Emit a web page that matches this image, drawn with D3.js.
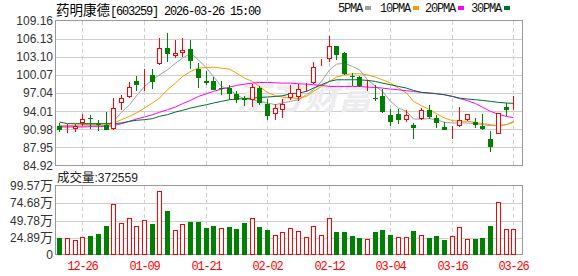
<!DOCTYPE html>
<html lang="zh">
<head>
<meta charset="UTF-8">
<title>药明康德 K线</title>
<script src="https://cdn.jsdelivr.net/npm/d3@7/dist/d3.min.js"></script>
<style>
    body { margin: 0; background: #fff; }
    .ylab { font: 12px "Liberation Sans", Arial, sans-serif; fill: #333; }
    .xlab { font: 12px "Liberation Mono", monospace; letter-spacing: -1.2px; fill: #f00; }
    .mono { font-family: "Liberation Mono", monospace; letter-spacing: -1.2px; }
    .cjk { font-family: "Noto Sans CJK SC", sans-serif; }
</style>
</head>
<body>
<script>
    // trading days shown
    var dates = ["12-23","12-24","12-25","12-26","12-29","12-30","12-31",
        "01-05","01-06","01-07","01-08","01-09","01-12","01-13","01-14","01-15","01-16",
        "01-19","01-20","01-21","01-22","01-23","01-26","01-27","01-28","01-29","01-30",
        "02-02","02-03","02-04","02-05","02-06","02-09","02-10","02-11","02-12","02-13",
        "02-24","02-25","02-26","02-27","03-02","03-03","03-04","03-05","03-06",
        "03-09","03-10","03-11","03-12","03-13","03-16","03-17","03-18","03-19","03-20",
        "03-23","03-24","03-25","03-26"];

    var open  = [91.61,91.16,91.10,92.00,92.83,91.90,91.70,91.05,95.40,96.40,99.02,98.85,100.13,101.97,104.59,103.31,103.75,104.42,101.14,99.13,
                 99.13,98.00,98.00,96.96,96.18,95.96,97.90,95.29,93.50,94.28,96.18,96.40,98.60,98.74,101.90,102.75,104.98,103.81,99.97,99.69,
                 99.05,96.23,96.51,93.45,93.62,92.49,91.77,92.73,94.28,92.90,91.32,90.99,91.49,92.61,92.16,91.61,89.43,90.22,94.73,94.67];
    var high  = [92.10,91.94,91.90,93.56,93.45,92.60,93.90,96.23,96.79,99.00,99.97,101.10,101.13,106.37,107.10,105.98,106.26,105.98,102.08,100.80,
                 99.74,99.13,98.46,97.35,96.62,98.63,98.20,96.12,95.23,96.12,98.46,98.63,98.80,102.36,102.75,106.71,105.00,103.90,100.52,99.86,
                 99.30,98.46,97.74,94.40,94.40,94.28,92.06,94.57,95.12,93.45,92.16,91.61,94.67,93.56,92.83,93.61,90.65,93.73,95.40,96.62];
    var low   = [90.60,90.38,90.60,91.60,91.05,90.66,90.80,90.94,94.17,96.23,97.35,97.35,97.74,101.86,102.20,102.92,103.20,101.08,98.00,98.46,
                 97.52,96.68,95.85,95.45,94.90,94.67,95.10,92.60,92.50,92.83,95.96,95.68,97.18,98.63,101.55,102.36,102.64,100.13,98.30,98.07,
                 97.35,95.68,93.80,91.60,91.83,92.22,89.38,92.61,92.73,91.22,90.83,89.38,91.39,92.44,91.22,90.94,87.14,90.22,93.16,94.28];
    var close = [90.94,91.38,91.50,92.72,92.67,91.70,90.90,94.62,96.18,98.07,98.35,99.13,98.85,104.59,103.59,103.75,104.37,102.53,99.52,98.74,
                 97.63,97.74,96.96,95.95,95.85,98.07,95.40,93.28,94.56,95.29,97.07,97.79,98.75,101.42,102.05,104.98,103.48,100.30,99.74,98.18,
                 99.25,96.07,93.83,92.17,92.61,93.45,91.16,94.28,93.06,92.06,90.94,91.16,92.61,93.56,91.77,91.05,88.05,93.73,94.17,94.80];

    // volume in 万
    var volume = [24.5,24.0,21.6,25.5,27.4,30.3,41.8,73.6,45.7,53.0,41.4,50.0,44.7,91.9,63.5,35.6,44.2,47.6,47.6,39.0,
                  41.8,38.5,40.4,37.5,46.2,53.0,40.4,36.0,28.3,33.2,38.5,34.6,25.5,41.4,28.3,53.0,33.2,33.2,27.4,24.5,
                  22.6,33.2,36.0,28.3,25.5,25.5,34.6,28.3,24.5,27.4,21.6,27.0,40.0,22.6,22.6,24.5,41.8,76.0,37.0,37.2559];

    // moving averages as shown
    var ma5  = [91.61,91.61,91.66,91.78,91.83,91.72,91.72,92.33,93.84,95.12,96.62,98.18,99.30,100.13,100.97,102.08,102.92,103.76,102.64,101.25,
                99.85,98.18,97.63,96.79,96.06,95.95,95.68,95.40,95.12,95.40,95.68,95.95,96.79,97.63,99.02,100.97,101.92,102.08,101.53,100.97,
                99.30,98.18,97.35,95.68,94.56,94.00,92.72,92.72,92.78,92.61,92.16,92.05,92.05,92.05,91.94,91.78,91.61,91.61,91.78,92.33];
    var ma10 = [91.49,91.49,91.49,91.55,91.61,91.61,91.61,92.05,92.61,93.17,93.73,94.56,95.40,96.23,97.63,98.74,99.85,100.69,101.25,101.36,
                101.41,101.25,101.08,100.41,99.58,99.02,98.18,97.18,96.62,96.40,96.23,96.18,96.51,97.35,98.18,99.02,99.74,100.13,100.30,100.30,
                100.13,99.74,99.30,98.74,97.90,97.07,95.68,94.95,94.28,93.61,92.89,92.44,92.33,92.33,92.16,91.94,91.78,91.61,91.78,92.16];
    var ma20 = [91.38,91.38,91.38,91.38,91.44,91.44,91.49,91.61,91.94,92.33,92.72,93.06,93.45,93.84,94.28,94.73,95.29,95.84,96.51,96.96,
                97.35,97.74,98.07,98.35,98.57,98.74,98.85,98.85,98.80,98.74,98.74,98.63,98.57,98.46,98.35,98.18,98.18,98.18,98.18,98.18,
                98.07,98.02,97.90,97.74,97.63,97.46,97.35,97.18,97.07,96.96,96.78,96.50,96.15,95.80,95.30,94.70,94.00,93.50,93.15,92.95];
    var ma30 = [92.22,91.94,91.94,91.94,91.94,91.94,91.94,91.94,92.05,92.33,92.50,92.61,92.78,93.17,93.45,93.89,94.17,94.56,94.84,95.12,
                95.40,95.68,95.95,96.07,96.12,96.23,96.34,96.40,96.51,96.62,96.96,97.07,97.35,97.90,98.46,99.02,99.30,99.30,99.30,99.30,
                99.19,99.02,98.74,98.46,98.18,97.90,97.51,97.18,97.07,96.96,96.79,96.51,96.23,96.07,95.95,95.84,95.68,95.51,95.40,95.35];

    var priceTicks = [84.92, 87.95, 90.98, 94.01, 97.04, 100.07, 103.10, 106.13, 109.16];
    var volTicks = [0, 24.89, 49.78, 74.68, 99.57];
    var labelDates = ["12-26","01-09","01-21","02-02","02-12","03-04","03-16","03-26"];

    var maNames = ["5PMA", "10PMA", "20PMA", "30PMA"];
    var maColors = ["#a0a0a0", "#f0a000", "#ff00ff", "#006e33"];

    // layout
    var W = 578, H = 276,
        left = 56, right = 522,
        pTop = 21, pBottom = 165.5,
        vTop = 186, vBottom = 255;

    var svg = d3.select("body").append("svg")
        .attr("width", W)
        .attr("height", H);

    var x = d3.scaleBand()
        .domain(dates)
        .range([left, left + dates.length * 7.693])
        .padding(0);

    var y = d3.scaleLinear().domain([84.92, 109.16]).range([pBottom, pTop]);
    var yv = d3.scaleLinear().domain([0, 99.57]).range([vBottom, vTop]);

    function cx(i) { return Math.floor(x(dates[i]) + x.bandwidth() / 2) + 0.5; }

    // horizontal grid lines
    svg.append("g").selectAll("line")
        .data(priceTicks.slice(1, -1))
        .enter().append("line")
        .attr("x1", left).attr("x2", right)
        .attr("y1", function(d) { return Math.round(y(d)) + 0.5; })
        .attr("y2", function(d) { return Math.round(y(d)) + 0.5; })
        .attr("stroke", "#cfcfcf");

    svg.append("g").selectAll("line")
        .data(volTicks.slice(1, -1))
        .enter().append("line")
        .attr("x1", left).attr("x2", right)
        .attr("y1", function(d) { return Math.round(yv(d)) + 0.5; })
        .attr("y2", function(d) { return Math.round(yv(d)) + 0.5; })
        .attr("stroke", "#cfcfcf");

    // vertical dashed lines
    var vg = svg.append("g");
    labelDates.forEach(function(d) {
        var xx = cx(dates.indexOf(d));
        [[pTop, pBottom], [vTop, vBottom]].forEach(function(r) {
            vg.append("line")
                .attr("x1", xx).attr("x2", xx)
                .attr("y1", r[0]).attr("y2", r[1])
                .attr("stroke", "#cfcfcf")
                .attr("stroke-dasharray", "4,3");
        });
    });

    // watermark
    svg.append("text")
        .attr("x", 236).attr("y", 109)
        .attr("class", "cjk")
        .style("font-size", "34px")
        .style("font-weight", "bold")
        .style("font-style", "italic")
        .attr("fill", "#ececee")
        .text("东方财富");

    // frames
    [[pTop, pBottom], [vTop, vBottom]].forEach(function(r) {
        svg.append("rect")
            .attr("x", left - 0.5).attr("y", Math.round(r[0]) - 0.5)
            .attr("width", right - left + 1)
            .attr("height", Math.round(r[1]) - Math.round(r[0]))
            .attr("fill", "none")
            .attr("stroke", "#999");
    });

    // moving average lines
    var line = d3.line()
        .x(function(d, i) { return cx(i); })
        .y(function(d) { return y(d); });

    [ma5, ma10, ma20, ma30].forEach(function(arr, k) {
        svg.append("path")
            .datum(arr)
            .attr("d", line)
            .attr("fill", "none")
            .attr("stroke", maColors[k])
            .attr("stroke-width", 1);
    });

    // candles
    var candle = svg.append("g").selectAll("g")
        .data(dates)
        .enter().append("g");

    candle.append("line")
        .attr("x1", function(d, i) { return cx(i); })
        .attr("x2", function(d, i) { return cx(i); })
        .attr("y1", function(d, i) { return Math.round(y(high[i])); })
        .attr("y2", function(d, i) { return Math.round(y(low[i])); })
        .attr("stroke", function(d, i) { return close[i] >= open[i] ? "#f00" : "#008000"; });

    candle.append("rect")
        .attr("x", function(d, i) { return close[i] >= open[i] ? cx(i) - 2 : cx(i) - 2.5; })
        .attr("width", function(d, i) { return close[i] >= open[i] ? 4 : 5; })
        .attr("y", function(d, i) {
            var t = Math.round(y(Math.max(open[i], close[i])));
            return close[i] >= open[i] ? t + 0.5 : t;
        })
        .attr("height", function(d, i) {
            var h = Math.round(y(Math.min(open[i], close[i]))) - Math.round(y(Math.max(open[i], close[i])));
            return close[i] >= open[i] ? Math.max(h - 1, 0) : Math.max(h, 1);
        })
        .attr("fill", function(d, i) { return close[i] >= open[i] ? "#fff" : "#008000"; })
        .attr("stroke", function(d, i) { return close[i] >= open[i] ? "#f00" : "none"; });

    // volume bars, coloured by change against the previous close
    function volUp(i) { return i === 0 ? close[i] >= open[i] : close[i] >= close[i - 1]; }

    svg.append("g").selectAll("rect")
        .data(volume)
        .enter().append("rect")
        .attr("x", function(d, i) { return volUp(i) ? cx(i) - 2 : cx(i) - 2.5; })
        .attr("width", function(d, i) { return volUp(i) ? 4 : 5; })
        .attr("y", function(d, i) { return Math.round(yv(d)) + (volUp(i) ? 0.5 : 0); })
        .attr("height", function(d, i) { return vBottom - Math.round(yv(d)) - (volUp(i) ? 1 : 0); })
        .attr("fill", function(d, i) { return volUp(i) ? "#fff" : "#008000"; })
        .attr("stroke", function(d, i) { return volUp(i) ? "#f00" : "none"; });

    // y labels
    svg.append("g").selectAll("text")
        .data(priceTicks)
        .enter().append("text")
        .attr("class", "ylab")
        .attr("x", 53)
        .attr("y", function(d) { return y(d); })
        .attr("dy", "0.35em")
        .attr("text-anchor", "end")
        .text(function(d) { return d.toFixed(2); });

    var vl = svg.append("g").selectAll("text")
        .data(volTicks)
        .enter().append("text")
        .attr("class", "ylab")
        .attr("x", 53)
        .attr("y", function(d) { return yv(d); })
        .attr("dy", "0.35em")
        .attr("text-anchor", "end");
    vl.append("tspan").text(function(d) { return d === 0 ? "0" : d.toFixed(2); });
    vl.append("tspan").attr("class", "cjk").style("font-size", "13px")
        .text(function(d) { return d === 0 ? "" : "万"; });

    // x labels
    svg.append("g").selectAll("text")
        .data(labelDates)
        .enter().append("text")
        .attr("class", "xlab")
        .attr("x", function(d) { return cx(dates.indexOf(d)); })
        .attr("y", 270)
        .attr("text-anchor", "middle")
        .text(function(d) { return d; });

    // title
    var title = svg.append("text").attr("x", 56).attr("y", 15);
    title.append("tspan").attr("class", "cjk").style("font-size", "13.5px").text("药明康德");
    title.append("tspan").attr("class", "mono").style("font-size", "12px").text("[603259] 2026-03-26 15:00");

    // legend
    var lx = [338, 380, 425, 471];
    maNames.forEach(function(n, k) {
        var t = svg.append("text")
            .attr("x", lx[k]).attr("y", 12)
            .attr("class", "mono")
            .style("font-size", "12px")
            .attr("fill", "#111")
            .text(n);
        var w = t.node().getComputedTextLength();
        svg.append("rect")
            .attr("x", lx[k] + w + 3).attr("y", 6)
            .attr("width", 6).attr("height", 4)
            .attr("fill", maColors[k]);
    });

    // volume caption
    var vc = svg.append("text").attr("x", 57).attr("y", 182).attr("fill", "#222");
    vc.append("tspan").attr("class", "cjk").style("font-size", "12.5px").text("成交量");
    vc.append("tspan").style("font", "12px 'Liberation Sans', Arial").text(":" + Math.round(volume[volume.length - 1] * 10000));
</script>
</body>
</html>
